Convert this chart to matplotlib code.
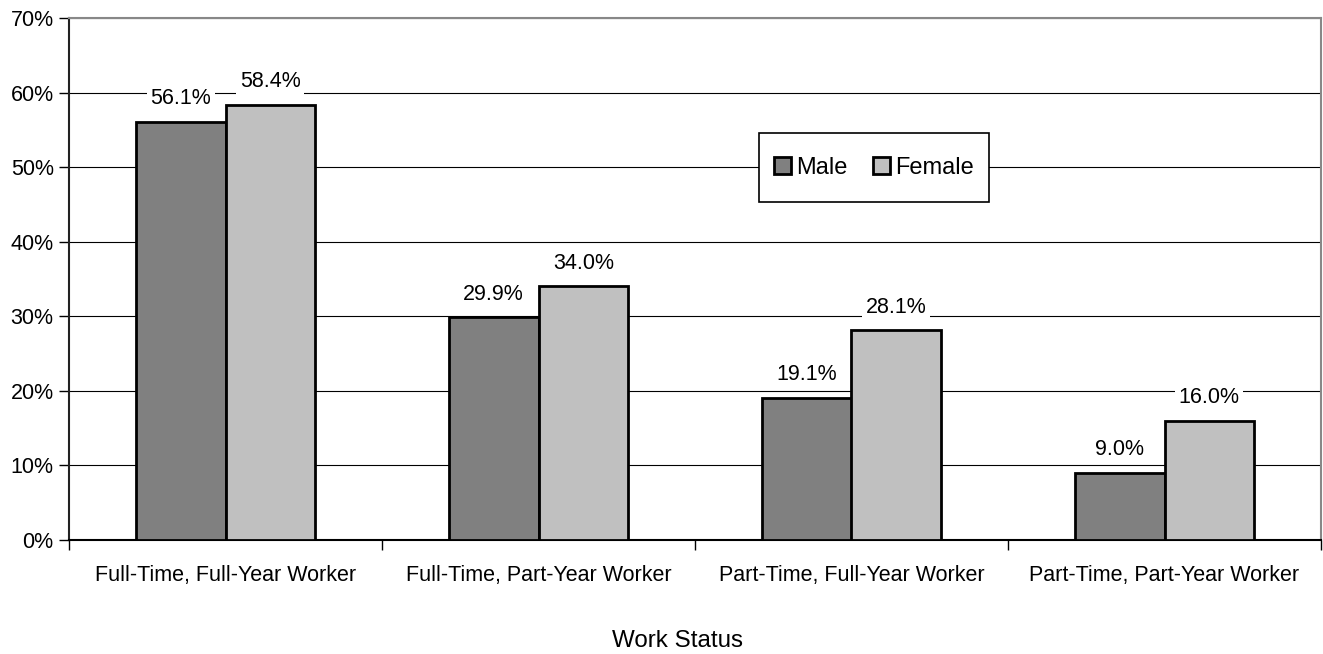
import matplotlib
matplotlib.use("Agg")
import matplotlib.pyplot as plt
import numpy as np
from matplotlib.patches import Rectangle
from matplotlib.ticker import FixedLocator, NullFormatter

plt.rcParams['font.family'] = ['Liberation Sans', 'DejaVu Sans']

categories = ["Full-Time, Full-Year Worker", "Full-Time, Part-Year Worker",
              "Part-Time, Full-Year Worker", "Part-Time, Part-Year Worker"]
male = [56.1, 29.9, 19.1, 9.0]
female = [58.4, 34.0, 28.1, 16.0]
y_ticks = [0, 10, 20, 30, 40, 50, 60, 70]

FS = 15.5
W, H = 1323, 654

fig = plt.figure(figsize=(W / 100, H / 100), dpi=100)
ax = fig.add_axes([69 / W, 1 - 540 / H, (1321 - 69) / W, (540 - 18) / H])

x = np.arange(len(categories))
w = 0.286
bm = ax.bar(x - w / 2, male, w, color="#808080", edgecolor="black", linewidth=2.0,
            label="Male", zorder=3)
bf = ax.bar(x + w / 2, female, w, color="#c0c0c0", edgecolor="black", linewidth=2.0,
            label="Female", zorder=3)

for bars, vals in ((bm, male), (bf, female)):
    for rect, v in zip(bars, vals):
        ax.annotate(f"{v:.1f}%", (rect.get_x() + rect.get_width() / 2, v),
                    xytext=(0, 9), textcoords="offset points",
                    ha="center", va="bottom", fontsize=FS, zorder=4,
                    bbox=dict(facecolor="white", edgecolor="none", pad=2.5))

ax.set_xlim(-0.5, len(categories) - 0.5)
ax.set_ylim(0, 70)
ax.set_yticks(y_ticks)
ax.set_yticklabels([f"{t}%" for t in y_ticks], fontsize=FS)
ax.yaxis.grid(True, color="black", linewidth=0.8, zorder=0)
ax.set_axisbelow(True)

ax.set_xticks(x)
ax.set_xticklabels(categories, fontsize=FS)
ax.tick_params(axis="x", length=0, pad=18)
ax.xaxis.set_minor_locator(FixedLocator(np.arange(-0.5, len(categories), 1.0)))
ax.xaxis.set_minor_formatter(NullFormatter())
ax.tick_params(axis="x", which="minor", length=7, width=1, direction="out", color="black")
ax.tick_params(axis="y", length=7, width=1, direction="out", pad=4)

ax.spines["left"].set_color("#222222")
ax.spines["left"].set_linewidth(1.5)
ax.spines["bottom"].set_color("black")
ax.spines["bottom"].set_linewidth(1.5)
ax.spines["top"].set_color("#888888")
ax.spines["top"].set_linewidth(1.5)
ax.spines["right"].set_color("#888888")
ax.spines["right"].set_linewidth(1.5)

fig.text(677 / W, 1 - 641 / H, "Work Status", ha="center", va="center", fontsize=17.4)

# legend box drawn as its own white rectangle, entries centred inside it
bx0, bx1 = (759 - 69) / 1252, (989 - 69) / 1252
by0, by1 = (540 - 202) / 522, (540 - 133) / 522
ax.add_patch(Rectangle((bx0, by0), bx1 - bx0, by1 - by0, transform=ax.transAxes,
                       facecolor="white", edgecolor="black", linewidth=1.2, zorder=5))
leg = ax.legend(loc="center", bbox_to_anchor=((bx0 + bx1) / 2, (by0 + by1) / 2),
                ncol=2, fontsize=17, frameon=False,
                handlelength=0.72, handleheight=0.72, handletextpad=0.25,
                columnspacing=1.05, borderaxespad=0, borderpad=0)
for patch in leg.get_patches():
    patch.set_linewidth(2.0)
leg.set_zorder(6)

fig.savefig("out.png", dpi=100, facecolor="white")
